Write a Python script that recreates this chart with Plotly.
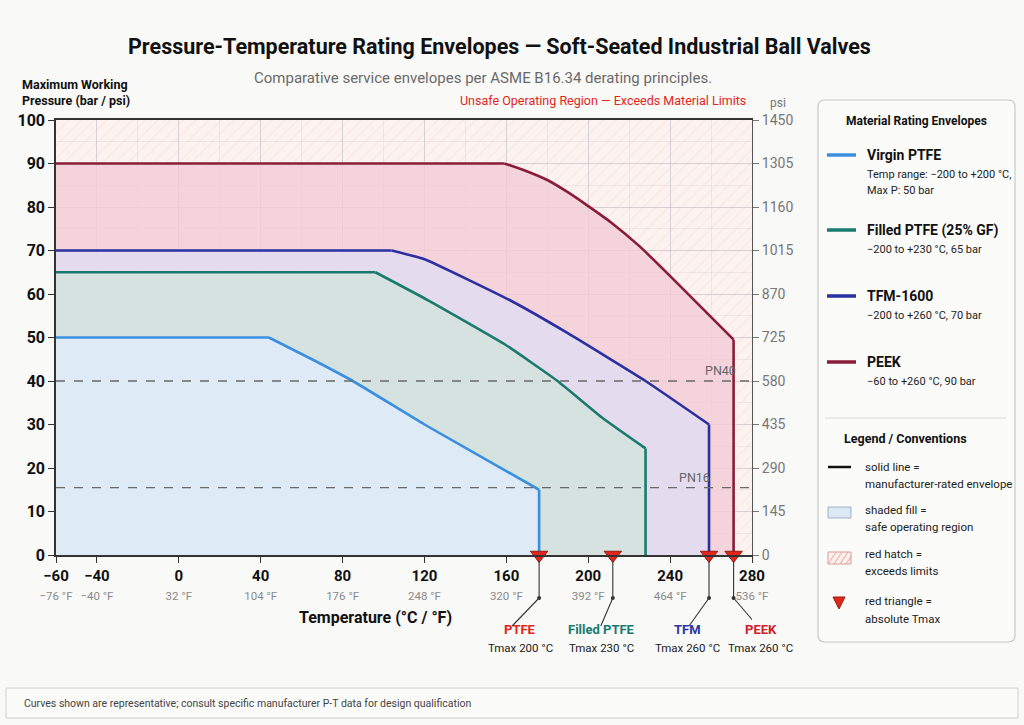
import plotly.graph_objects as go

# ---------------- data ----------------
T_MIN, T_MAX = -60, 280
P_MAX = 100
PSI_MAX = 1450

ptfe_T = [-60, 44, 65, 85, 120, 176, 176]
ptfe_P = [50, 50, 45, 40, 30, 15, 0]
filled_T = [-60, 96, 122, 159, 185, 207, 228, 228]
filled_P = [65, 65, 58.5, 48.5, 40, 31.5, 24.5, 0]
tfm_T = [-60, 104, 120, 162, 190, 228, 259, 259]
tfm_P = [70, 70, 68, 58.5, 51, 40, 30, 0]
peek_T = [-60, 159, 169, 180, 190, 200, 211, 225, 242, 271, 271]
peek_P = [90, 90, 88.4, 86.2, 83.4, 80.2, 76.5, 71, 63.2, 49.5, 0]

tmax_T = [176, 212, 259, 271]
tmax_names = ["PTFE", "Filled PTFE", "TFM", "PEEK"]
tmax_labels = ["Tmax 200 °C", "Tmax 230 °C", "Tmax 260 °C", "Tmax 260 °C"]

pn_levels = [40, 15.5]
pn_names = ["PN40", "PN16"]

x_tick_c = [-60, -40, 0, 40, 80, 120, 160, 200, 240, 280]
x_tick_c_text = ["−60", "−40", "0", "40", "80", "120", "160", "200", "240", "280"]
x_tick_f_text = ["−76 °F", "−40 °F", "32 °F", "104 °F", "176 °F", "248 °F",
                 "320 °F", "392 °F", "464 °F", "536 °F"]
y_tick_bar = [0, 10, 20, 30, 40, 50, 60, 70, 80, 90, 100]
y_tick_psi = [0, 145, 290, 435, 580, 725, 870, 1015, 1160, 1305, 1450]

# ---------------- styling ----------------
SANS = "Roboto, Liberation Sans, sans-serif"

C_PTFE = "#3b8fe0"
C_FILLED = "#1b7a6f"
C_TFM = "#2a30a0"
C_PEEK = "#8a1c38"
RED = "#e2261c"

L, R, TOP, BOT = 56, 752, 120, 555
W, H = R - L, BOT - TOP


def px(x):
    return (x - L) / W


def py(y):
    return (BOT - y) / H


fig = go.Figure()

# unsafe region (above the outermost envelope) with hatch
unsafe_x = peek_T + [T_MAX, T_MAX, T_MIN, T_MIN]
unsafe_y = peek_P + [0, P_MAX, P_MAX, peek_P[0]]
fig.add_trace(go.Scatter(
    x=unsafe_x, y=unsafe_y, mode="lines", line=dict(width=0),
    fill="toself", fillcolor="rgba(0,0,0,0)",
    fillpattern=dict(shape="/", fgcolor="rgba(225,125,115,0.20)",
                     bgcolor="rgba(0,0,0,0)", size=9, solidity=0.12),
    hoverinfo="skip", showlegend=False))

series = [
    ("PEEK", peek_T, peek_P, C_PEEK, "rgba(241,203,214,0.80)"),
    ("TFM-1600", tfm_T, tfm_P, C_TFM, "rgba(224,220,241,0.85)"),
    ("Filled PTFE (25% GF)", filled_T, filled_P, C_FILLED, "rgba(211,227,221,0.88)"),
    ("Virgin PTFE", ptfe_T, ptfe_P, C_PTFE, "rgba(222,234,247,0.92)"),
]
# fills first
for name, tx, ty, lc, fc in series:
    fig.add_trace(go.Scatter(
        x=tx, y=ty, mode="lines", name=name,
        line=dict(color="rgba(0,0,0,0)", width=0), fill="tozeroy", fillcolor=fc,
        showlegend=False, hoverinfo="skip"))
# then envelope lines: flat plateau, smooth derating curve, straight drop at Tmax
for name, tx, ty, lc, fc in series:
    fig.add_trace(go.Scatter(
        x=tx[:2], y=ty[:2], mode="lines", name=name,
        line=dict(color=lc, width=2.6), showlegend=False, cliponaxis=False))
    fig.add_trace(go.Scatter(
        x=tx[1:-1], y=ty[1:-1], mode="lines", name=name,
        line=dict(color=lc, width=2.6, shape="spline", smoothing=0.4),
        showlegend=False, cliponaxis=False))
    fig.add_trace(go.Scatter(
        x=tx[-2:], y=ty[-2:], mode="lines", name=name,
        line=dict(color=lc, width=2.6), showlegend=False, cliponaxis=False,
        hoverinfo="skip"))

# PN reference lines
for lvl, nm, xs in zip(pn_levels, pn_names, [-14, -40]):
    fig.add_shape(type="line", xref="x", yref="y", x0=T_MIN, x1=T_MAX, y0=lvl, y1=lvl,
                  line=dict(color="#6a6a6a", width=1.3, dash="dash"), layer="above")
    fig.add_annotation(x=T_MAX, y=lvl, xref="x", yref="y", text=nm, showarrow=False,
                       xanchor="right", yanchor="bottom", xshift=xs, yshift=1,
                       font=dict(family=SANS, size=12.5, color="#666"))

# dummy trace to activate the psi axis
fig.add_trace(go.Scatter(x=[T_MIN], y=[0], yaxis="y2", mode="markers",
                         marker=dict(opacity=0), hoverinfo="skip", showlegend=False))

# leader lines and labels
lead_dx = [-27, -12, -20, 24]
text_dx = [-19, -11, -22, 27]
name_cols = ["#e0261d", "#1b7a6f", "#2b35a8", "#d0202a"]
for t, nm, lab, dx, tdx, nc in zip(tmax_T, tmax_names, tmax_labels, lead_dx, text_dx, name_cols):
    common = dict(xref="x", yref="paper", xsizemode="pixel", ysizemode="pixel",
                  xanchor=t, yanchor=0, layer="above")
    fig.add_shape(type="line", x0=0, x1=0, y0=-6, y1=-43,
                  line=dict(color="#333", width=1.1), **common)
    fig.add_shape(type="line", x0=0, x1=dx, y0=-43, y1=-71,
                  line=dict(color="#333", width=1.1), **common)
    fig.add_shape(type="circle", x0=-2, x1=2, y0=-45, y1=-41,
                  fillcolor="#333", line=dict(width=0), **common)
    fig.add_annotation(x=t, xref="x", xshift=tdx, y=py(639), yref="paper", text=nm,
                       showarrow=False, font=dict(family=SANS, size=13, color=nc, weight="bold"))
    fig.add_annotation(x=t, xref="x", xshift=tdx, y=py(657), yref="paper", text=lab,
                       showarrow=False, font=dict(family=SANS, size=11.5, color="#222"))

# Tmax triangles
fig.add_trace(go.Scatter(
    x=tmax_T, y=[0] * len(tmax_T), mode="markers",
    marker=dict(symbol="triangle-down", size=15, color=RED,
                line=dict(color="#9a1a10", width=1)),
    cliponaxis=False, showlegend=False, hoverinfo="skip"))

x_ticktext = [f"<b>{c}</b><br><span style='font-size:11.5px;color:#8a8a8a;font-weight:normal'>{f}</span>"
              for c, f in zip(x_tick_c_text, x_tick_f_text)]

fig.update_layout(
    width=1024, height=725,
    margin=dict(l=L, r=1024 - R, t=TOP, b=725 - BOT),
    paper_bgcolor="#f9f9f7", plot_bgcolor="#fcf2f0",
    showlegend=False,
    xaxis=dict(range=[T_MIN, T_MAX], tickvals=x_tick_c, ticktext=x_ticktext,
               tickfont=dict(family=SANS, size=15, color="#111"),
               showgrid=True, gridcolor="rgba(140,140,150,0.22)", gridwidth=1,
               minor=dict(dtick=20, tick0=0, showgrid=True, gridcolor="rgba(140,140,150,0.12)"),
               showline=True, mirror=True, linecolor="#333", linewidth=1.5,
               ticks="outside", ticklen=6, tickcolor="#333", zeroline=False),
    yaxis=dict(range=[0, P_MAX], tickvals=y_tick_bar,
               tickfont=dict(family=SANS, size=16, color="#111", weight="bold"),
               showgrid=True, gridcolor="rgba(140,140,150,0.22)",
               minor=dict(dtick=5, showgrid=True, gridcolor="rgba(140,140,150,0.12)"),
               showline=True, linecolor="#333", linewidth=1.5,
               ticks="outside", ticklen=6, tickcolor="#333", zeroline=False),
    yaxis2=dict(range=[0, PSI_MAX], tickvals=y_tick_psi, overlaying="y", side="right",
                tickfont=dict(family=SANS, size=14, color="#777"),
                showgrid=False, showline=True, linecolor="#555", linewidth=1,
                ticks="outside", ticklen=6, tickcolor="#777", zeroline=False),
)


def ann(x, y, text, size, color="#222", family=SANS, weight="normal", xanchor="left"):
    fig.add_annotation(x=px(x), y=py(y), xref="paper", yref="paper", text=text,
                       showarrow=False, xanchor=xanchor, yanchor="middle",
                       font=dict(family=family, size=size, color=color, weight=weight))


# titles
ann(499, 47, "Pressure-Temperature Rating Envelopes — Soft-Seated Industrial Ball Valves",
    21.5, "#111", SANS, "bold", "center")
ann(483, 78, "Comparative service envelopes per ASME B16.34 derating principles.",
    15, "#6a6a6a", SANS, "normal", "center")
ann(20, 84, "Maximum Working", 12.5, "#111", SANS, "bold")
ann(20, 100, "Pressure (bar / psi)", 12.5, "#111", SANS, "bold")
ann(748, 100, "Unsafe Operating Region — Exceeds Material Limits", 12.5, RED, SANS, "normal", "right")
ann(778, 103, "psi", 12, "#777", SANS, "normal", "center")
ann(375, 617, "Temperature (°C / °F)", 16, "#111", SANS, "bold", "center")


def rrect(x0, y0, x1, y1, r):
    X = lambda v: px(v)
    Y = lambda v: py(v)
    return (f"M {X(x0 + r)} {Y(y0)} L {X(x1 - r)} {Y(y0)} Q {X(x1)} {Y(y0)} {X(x1)} {Y(y0 + r)} "
            f"L {X(x1)} {Y(y1 - r)} Q {X(x1)} {Y(y1)} {X(x1 - r)} {Y(y1)} "
            f"L {X(x0 + r)} {Y(y1)} Q {X(x0)} {Y(y1)} {X(x0)} {Y(y1 - r)} "
            f"L {X(x0)} {Y(y0 + r)} Q {X(x0)} {Y(y0)} {X(x0 + r)} {Y(y0)} Z")


# legend panel
fig.add_shape(type="path", xref="paper", yref="paper", path=rrect(818, 100, 1015, 642, 7),
              fillcolor="#fbfbfa", line=dict(color="#c8c8c8", width=1.2))
ann(916, 121, "Material Rating Envelopes", 12, "#111", SANS, "bold", "center")

legend_items = [
    ("Virgin PTFE", C_PTFE, 155, ["Temp range: −200 to +200 °C,", "Max P: 50 bar"]),
    ("Filled PTFE (25% GF)", C_FILLED, 230, ["−200 to +230 °C, 65 bar"]),
    ("TFM-1600", C_TFM, 296, ["−200 to +260 °C, 70 bar"]),
    ("PEEK", C_PEEK, 362, ["−60 to +260 °C, 90 bar"]),
]
for nm, col, yy, desc in legend_items:
    fig.add_shape(type="line", xref="paper", yref="paper", x0=px(827), x1=px(856),
                  y0=py(yy), y1=py(yy), line=dict(color=col, width=3.5))
    ann(865, yy, nm, 14, "#111", SANS, "bold")
    for k, d in enumerate(desc):
        ann(865, yy + 19 + 16 * k, d, 11, "#222", SANS)

fig.add_shape(type="line", xref="paper", yref="paper", x0=px(825), x1=px(1006),
              y0=py(418), y1=py(418), line=dict(color="#d6d6d6", width=1))
ann(842, 438, "Legend / Conventions", 12.5, "#111", SANS, "bold")

# conventions
fig.add_shape(type="line", xref="paper", yref="paper", x0=px(828), x1=px(851),
              y0=py(467), y1=py(467), line=dict(color="#111", width=2.5))
ann(863, 467, "solid line =", 11.5, "#222", SANS)
ann(863, 484, "manufacturer-rated envelope", 11.5, "#222", SANS)

fig.add_shape(type="rect", xref="paper", yref="paper", x0=px(828), x1=px(851),
              y0=py(518), y1=py(507), fillcolor="#dbe8f5", line=dict(color="#9fb0c2", width=1))
ann(863, 510, "shaded fill =", 11.5, "#222", SANS)
ann(863, 527, "safe operating region", 11.5, "#222", SANS)

fig.add_shape(type="rect", xref="paper", yref="paper", x0=px(828), x1=px(851),
              y0=py(564), y1=py(552), fillcolor="#fdf0ee", line=dict(color="#d99a90", width=1))
for k in range(4):
    x0 = 828 + 6 * k
    fig.add_shape(type="line", xref="paper", yref="paper", x0=px(x0), x1=px(min(x0 + 8, 851)),
                  y0=py(564), y1=py(552 if x0 + 8 <= 851 else 564 - 12 * (851 - x0) / 8),
                  line=dict(color="#e8a49a", width=1))
ann(863, 554, "red hatch =", 11.5, "#222", SANS)
ann(863, 571, "exceeds limits", 11.5, "#222", SANS)

fig.add_shape(type="path", xref="paper", yref="paper",
              path=f"M {px(833)} {py(597)} L {px(845)} {py(597)} L {px(839)} {py(609)} Z",
              fillcolor=RED, line=dict(color="#9a1a10", width=1))
ann(863, 601, "red triangle =", 11.5, "#222", SANS)
ann(863, 619, "absolute Tmax", 11.5, "#222", SANS)

# footer
fig.add_shape(type="rect", xref="paper", yref="paper", x0=px(6), x1=px(1018),
              y0=py(718), y1=py(688), fillcolor="#fbfbfa", line=dict(color="#d0d0d0", width=1))
ann(22, 703, "Curves shown are representative; consult specific manufacturer P-T data for design qualification",
    10.5, "#444", SANS)

fig.write_html("out.html")
